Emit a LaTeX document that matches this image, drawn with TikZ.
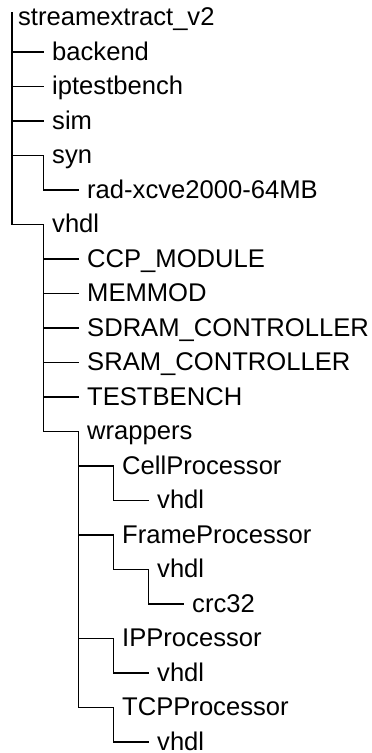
\documentclass[tikz,border=0pt]{standalone}
\usepackage{fontspec}
\setmainfont{Liberation Sans}
\begin{document}
\begin{tikzpicture}[x=1pt,y=-1pt,
  entry/.style={anchor=base west,inner sep=0pt,font=\fontsize{25.6}{30}\selectfont},
  branch/.style={line width=1.1pt,line cap=rect}]
\useasboundingbox (0,0) rectangle (372,753);
% rows are 34.5pt apart; text baseline sits 8pt below the branch line,
% and each entry's hook lies 8.5pt left of its text
\newcommand\entryat[4]{% name, text x, row, text
  \node[entry] (#1) at (#2,{17.5+34.5*#3+8}) {#4};
  \coordinate (#1-h) at ({#2-8.5},{17.5+34.5*#3});}

\node[entry] (root) at (18,25.5) {streamextract\_v2};
\coordinate (root-h) at (12,13);

\entryat{backend}{52}{1}{backend}
\entryat{iptb}{52}{2}{iptestbench}
\entryat{sim}{52}{3}{sim}
\entryat{syn}{52}{4}{syn}
\entryat{rad}{87}{5}{rad-xcve2000-64MB}
\entryat{vhdl}{52}{6}{vhdl}
\entryat{ccp}{87}{7}{CCP\_MODULE}
\entryat{memmod}{87}{8}{MEMMOD}
\entryat{sdram}{87}{9}{SDRAM\_CONTROLLER}
\entryat{sram}{87}{10}{SRAM\_CONTROLLER}
\entryat{tb}{87}{11}{TESTBENCH}
\entryat{wrap}{87}{12}{wrappers}
\entryat{cell}{122}{13}{CellProcessor}
\entryat{cellv}{157}{14}{vhdl}
\entryat{frame}{122}{15}{FrameProcessor}
\entryat{framev}{157}{16}{vhdl}
\entryat{crc}{192}{17}{crc32}
\entryat{ip}{122}{18}{IPProcessor}
\entryat{ipv}{157}{19}{vhdl}
\entryat{tcp}{122}{20}{TCPProcessor}
\entryat{tcpv}{157}{21}{vhdl}

\foreach \p/\c in {root/backend,root/iptb,root/sim,root/syn,syn/rad,root/vhdl,
  vhdl/ccp,vhdl/memmod,vhdl/sdram,vhdl/sram,vhdl/tb,vhdl/wrap,
  wrap/cell,cell/cellv,wrap/frame,frame/framev,framev/crc,
  wrap/ip,ip/ipv,wrap/tcp,tcp/tcpv}
  \draw[branch] (\p-h) |- (\c-h);
\end{tikzpicture}
\end{document}
